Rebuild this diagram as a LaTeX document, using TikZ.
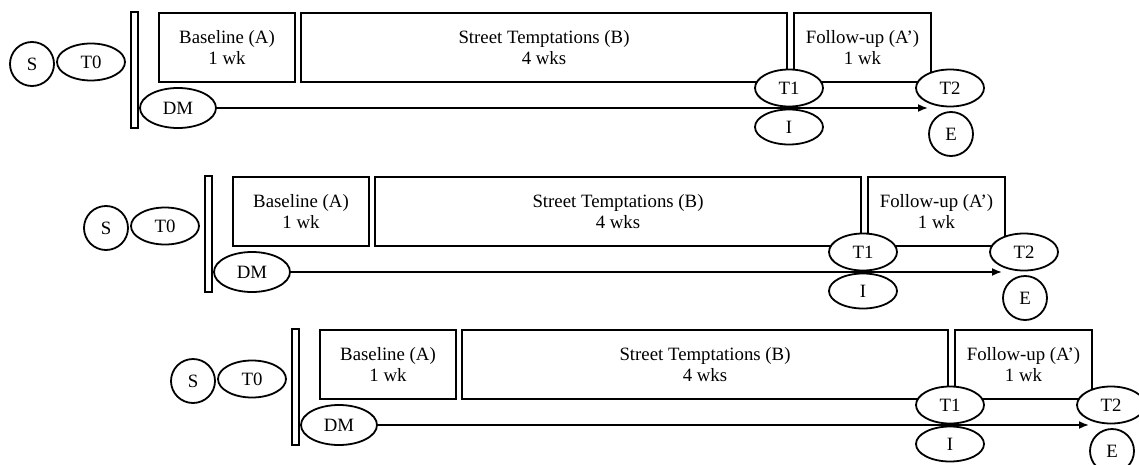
\documentclass[tikz,border=0pt]{standalone}
\usepackage{fontspec}
\setmainfont{Liberation Serif}
\usetikzlibrary{shapes.geometric,arrows.meta}

\tikzset{
  phase/.style={draw, rectangle, fill=white, inner sep=0pt, minimum height=34.5pt, align=center},
  oval/.style={draw, ellipse, fill=white, inner sep=0pt, minimum width=34pt, minimum height=18.5pt},
  ring/.style={draw, circle, fill=white, inner sep=0pt, minimum size=22pt},
}

\begin{document}
\begin{tikzpicture}[>={Latex[length=5pt,width=4pt]}, x=0.5pt, y=-0.5pt, line width=0.9pt,
    font=\fontsize{9.4}{10.8}\selectfont]

    \path[clip] (0,0) rectangle (1139,465);

    % three copies of the design, each one shifted
    \foreach \dx/\dy/\r in {0/0/a, 74/164/b, 161/317/c}{
    \begin{scope}[shift={(\dx,\dy)}]
        \node[ring] (S\r) at (32,64) {S};
        \node[oval] (T0\r) at (91,62) {T0};
        \node[draw, inner sep=0pt, minimum width=3.5pt, minimum height=58pt] (bar\r) at (134.5,70) {};

        \node[phase, minimum width=68pt] (base\r) at (227,47.5) {Baseline (A)\\1 wk};
        \node[phase, minimum width=243pt] (street\r) at (544,47.5) {Street Temptations (B)\\4 wks};
        \node[phase, minimum width=68.5pt] (follow\r) at (862.5,47.5) {Follow-up (A’)\\1 wk};

        \node[oval, minimum width=38pt, minimum height=20pt] (DM\r) at (178,108) {DM};
        \node[oval] (T1\r) at (789,88) {T1};
        \node[oval, minimum height=17.5pt] (I\r) at (789,127) {I};
        \node[oval] (T2\r) at (950,88) {T2};
        \node[ring] (E\r) at (951,134) {E};

        \coordinate (end\r) at (928,108);
        \draw[->] (DM\r) -- (end\r);
    \end{scope}
    }

\end{tikzpicture}
\end{document}
